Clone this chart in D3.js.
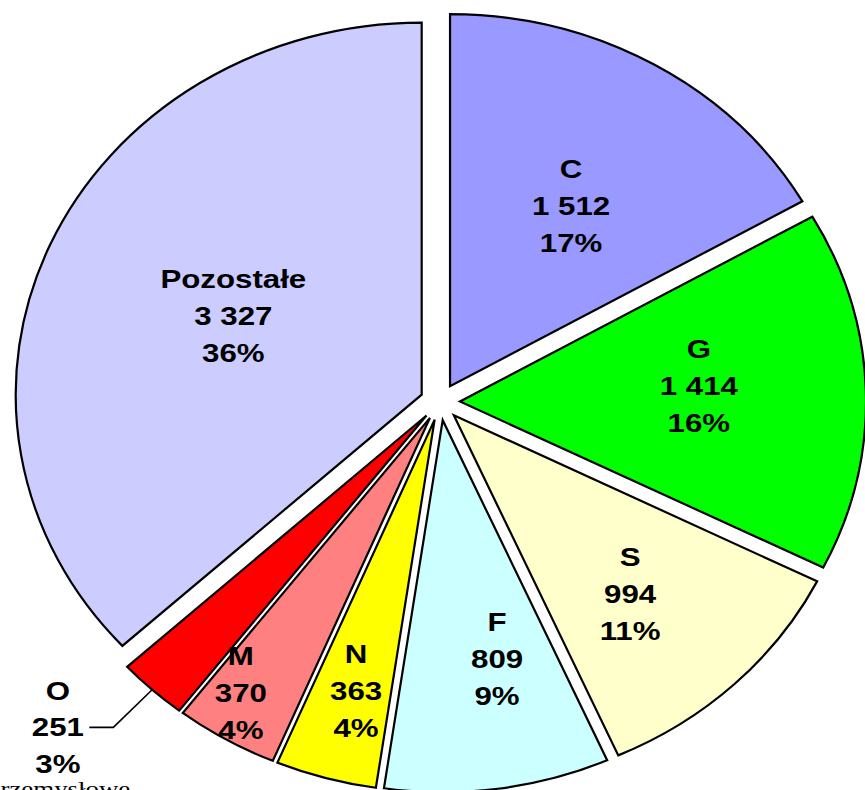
<!DOCTYPE html>
<html><head><meta charset="utf-8">
<script src="https://cdn.jsdelivr.net/npm/d3@7"></script>
<style>body{margin:0;background:#fff;overflow:hidden}</style>
</head><body>
<svg id="chart" width="865" height="790"></svg>
<script>
// ---- data ----
const categories = ["C", "G", "S", "F", "N", "M", "O", "Pozostałe"];
const values = [1512, 1414, 994, 809, 363, 370, 251, 3327];
const percentLabels = ["17%", "16%", "11%", "9%", "4%", "4%", "3%", "36%"];
const colors = ["#9999FF", "#00FF00", "#FFFFCC", "#CCFFFF", "#FFFF00", "#FF8080", "#FF0000", "#CCCCFF"];
const footText = "przemysłowe";

// ---- layout ----
const W = 865, H = 790;
const cx = 440, cy = 402, rx = 406, ry = 372, explode = 20;
// label placement: [radius fraction, angle in degrees], relative to pie center
const labelPolar = [[0.618, 31.5], [0.639, 86.1], [0.697, 137.8], [0.705, 168.5],
                    [0.804, 194.9], [0.923, 212.1], [1.285, 227.1], [0.559, 294.4]];
const lineGap = 36.7, textStretch = 1.25, fontSize = 25;

const fmt = d3.formatLocale({decimal: ",", thousands: " ", grouping: [3], currency: ["", ""]}).format(",d");

const svg = d3.select("#chart");
const pie = d3.pie().sort(null).value(d => d);
const arcs = pie(values);
const arc = d3.arc().innerRadius(0).outerRadius(rx);
const sy = ry / rx;

const g = svg.append("g").attr("transform", `translate(${cx},${cy}) scale(1,${sy})`);
g.selectAll("path").data(arcs).join("path")
  .attr("d", arc)
  .attr("transform", d => {
    const m = (d.startAngle + d.endAngle) / 2;
    return `translate(${explode * Math.sin(m)},${-explode * Math.cos(m)})`;
  })
  .attr("fill", (d, i) => colors[i])
  .attr("stroke", "#000")
  .attr("stroke-width", 2.2)
  .attr("stroke-linejoin", "miter")
  .attr("vector-effect", "non-scaling-stroke");

// labels
const labels = svg.append("g");
arcs.forEach((d, i) => {
  const [f, angDeg] = labelPolar[i];
  const a = angDeg * Math.PI / 180;
  const x = cx + f * rx * Math.sin(a);
  const y = cy - f * ry * Math.cos(a);
  const lg = labels.append("g").attr("transform", `translate(${x},${y + 9}) scale(${textStretch},1)`);
  const lines = [categories[i], fmt(values[i]), percentLabels[i]];
  lines.forEach((t, k) => {
    lg.append("text")
      .attr("x", 0).attr("y", (k - 1) * lineGap)
      .attr("text-anchor", "middle")
      .attr("font-family", "Liberation Sans, Arial, sans-serif")
      .attr("font-weight", "bold")
      .attr("font-size", fontSize)
      .attr("fill", "#000")
      .text(t);
  });
  // leader line for outside label
  if (f > 1) {
    const m = (d.startAngle + d.endAngle) / 2;
    const ax = cx + explode * Math.sin(m) + rx * Math.sin(m);
    const ay = cy + sy * (-explode * Math.cos(m)) - ry * Math.cos(m);
    const ex = x + 55.5, ey = y;
    const sx = x + 31.5;
    svg.append("path")
      .attr("d", `M${ax},${ay}L${ex},${ey}L${sx},${ey}`)
      .attr("fill", "none").attr("stroke", "#000").attr("stroke-width", 1.6);
  }
});

// cut-off footer text
svg.append("text")
  .attr("transform", `translate(-13,796) scale(${textStretch},1)`)
  .attr("font-family", "Liberation Serif, Times New Roman, serif")
  .attr("font-size", 21.5)
  .attr("fill", "#000")
  .text(footText);
</script>
</body></html>
